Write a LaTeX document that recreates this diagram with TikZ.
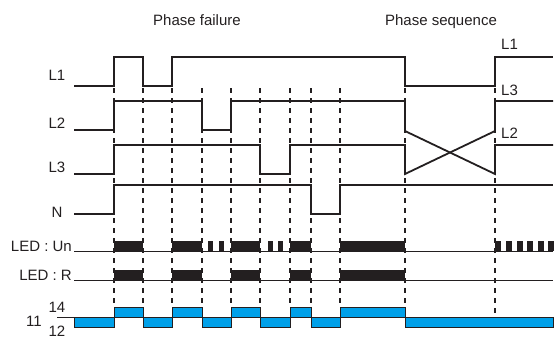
\documentclass[tikz,border=0pt]{standalone}
\usepackage{fontspec}
\setmainfont{Liberation Sans}
\definecolor{ink}{HTML}{231F20}
\definecolor{relblue}{HTML}{00A0E9}
\begin{document}
\begin{tikzpicture}[x=1pt,y=-1pt,
  sig/.style={line width=1.8pt, draw=ink, line join=miter},
  evt/.style={line width=1.2pt, draw=ink, dash pattern=on 5pt off 5pt},
  ledline/.style={line width=0.9pt, draw=ink},
  relbox/.style={fill=relblue, draw=ink, line width=0.8pt},
  lbl/.style={font=\fontsize{15}{15}\selectfont, text=ink, inner sep=0pt, anchor=base}
]
\useasboundingbox (0,0) rectangle (554,338);

% event (dashed) lines
\foreach \x in {114,143,172,202,231,260,290,311,340}
  \draw[evt] (\x,88) -- (\x,307);
\foreach \x in {405,495}
  \draw[evt] (\x,88) -- (\x,317);

% phase signals
\draw[sig] (74,86) -- (114,86) -- (114,57) -- (143,57) -- (143,86) -- (172,86) -- (172,57) -- (405,57) -- (405,86) -- (495,86) -- (495,57) -- (553,57);
\draw[sig] (74,130) -- (114,130) -- (114,101) -- (202,101) -- (202,130) -- (231,130) -- (231,101) -- (405,101) -- (405,131) -- (495,174) -- (495,145) -- (553,145);
\draw[sig] (74,174) -- (114,174) -- (114,145) -- (260,145) -- (260,174) -- (290,174) -- (290,145) -- (405,145) -- (405,174) -- (495,131) -- (495,101) -- (553,101);
\draw[sig] (74,214) -- (114,214) -- (114,185) -- (311,185) -- (311,214) -- (340,214) -- (340,185) -- (553,185);

% LED Un
\draw[ledline] (74,251) -- (553,251);
\foreach \a/\b in {114/143,172/202,231/260,290/311,340/405}
  \fill[ink] (\a,241) rectangle (\b,251);
\foreach \a in {208,219,268,278}
  \fill[ink] (\a,241) rectangle ({\a+5},251);
\foreach \a in {495,506,517,527,538,548}
  \fill[ink] (\a,241) rectangle ({\a+5.5},251);

% LED R
\draw[ledline] (74,280) -- (553,280);
\foreach \a/\b in {114/143,172/202,231/260,290/311,340/405}
  \fill[ink] (\a,270) rectangle (\b,280);

% relay
\foreach \a/\b in {74/114,143/172,202/231,260/290,311/340,405/553}
  \draw[relbox] (\a,317) rectangle (\b,327);
\foreach \a/\b in {114/143,172/202,231/260,290/311,340/405}
  \draw[relbox] (\a,307) rectangle (\b,317);
\draw[ledline] (57,317) -- (553,317);

% labels
\node[lbl] (tpf) at (197,25) {Phase failure};
\node[lbl] (tps) at (441,25) {Phase sequence};
\node[lbl] (l1) at (57,80) {L1};
\node[lbl] (l2) at (57,128) {L2};
\node[lbl] (l3) at (57,172) {L3};
\node[lbl] (ln) at (57,217) {N};
\node[lbl, anchor=base east] (lun) at (72,251) {LED : Un};
\node[lbl, anchor=base east] (lr) at (72,280.5) {LED : R};
\node[lbl] (r14) at (57,312) {14};
\node[lbl] (r11) at (34,326) {11};
\node[lbl] (r12) at (57,336) {12};
\node[lbl, anchor=base west] (rl1) at (501,49) {L1};
\node[lbl, anchor=base west] (rl3) at (501,95) {L3};
\node[lbl, anchor=base west] (rl2) at (501,138) {L2};
\end{tikzpicture}
\end{document}
